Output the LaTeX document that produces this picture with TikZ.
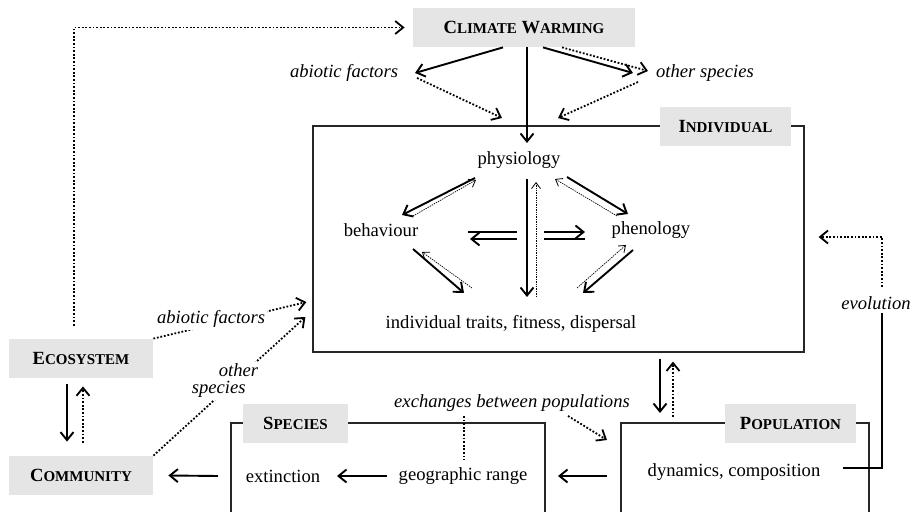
\documentclass[tikz,border=0pt]{standalone}
\usepackage{fontspec}
\setmainfont{Liberation Serif}
\usetikzlibrary{positioning,arrows.meta,calc}

% reduced capitals for the level names
\newcommand\sm[1]{{\fontsize{7.5}{9}\selectfont #1}}

\begin{document}
\begin{tikzpicture}[
  x=0.5pt, y=-0.5pt,
  font=\fontsize{9.3}{11}\selectfont,
  tag/.style={fill=gray!20, font=\fontsize{9.3}{11}\selectfont\bfseries,
    minimum height=19.5pt, inner sep=0pt},
  boxframe/.style={draw=black!85, line width=0.6pt},
  lbl/.style={font=\fontsize{9.3}{11}\selectfont\itshape, inner sep=1pt},
  arr/.style={-{Straight Barb[length=4pt,width=6.5pt]}, line width=0.95pt},
  dline/.style={line width=0.9pt, dash pattern=on 0.9pt off 0.9pt},
  darr/.style={dline, -{Straight Barb[length=4pt,width=6.5pt]}},
  fdarr/.style={-{Straight Barb[length=3pt,width=4.5pt,line width=0.4pt]},
    line width=0.35pt, dash pattern=on 0.7pt off 0.5pt}
]
\useasboundingbox (0,0) rectangle (915,512);
\fill[white] (0,0) rectangle (915,512);

% ---------- frames ----------
\node[boxframe, minimum width=245.5pt, minimum height=113pt, inner sep=0pt] (ind) at (558.5,239) {};
\coordinate (pop) at (621,423);
\draw[boxframe] (231,515) |- (545,423) -- (545,515);
\draw[boxframe] (621,515) |- (869,423) -- (869,515);

% ---------- level names ----------
\node[tag, minimum width=111pt]  (cw)     at (524,27.5)    {C\sm{LIMATE} W\sm{ARMING}};
\node[tag, minimum width=65.5pt] (indlab) at (725.5,126.5) {I\sm{NDIVIDUAL}};
\node[tag, minimum width=72pt]   (eco)    at (81,358.5)    {E\sm{COSYSTEM}};
\node[tag, minimum width=72pt]   (comm)   at (81,475.5)    {C\sm{OMMUNITY}};
\node[tag, minimum width=52.5pt] (splab)  at (295.5,423.5) {S\sm{PECIES}};
\node[tag, minimum width=65.5pt] (poplab) at (790.5,423.5) {P\sm{OPULATION}};

% ---------- texts ----------
\node (phys)     at (519,160) {physiology};
\node (behav)    at (381,230) {behaviour};
\node (phen)     at (651,230) {phenology};
\node (traits)   at (511,324) {individual traits, fitness, dispersal};
\node (extinct)  at (283,476) {extinction};
\node (georange) at (463,476) {geographic range};
\node (dyncomp)  at (734,472) {dynamics, composition};
\node[lbl] (abio) at (344,73)  {abiotic factors};
\node[lbl] (oth)  at (705,73)  {other species};
\node[lbl] (exch) at (512,403) {exchanges between populations};
\node[lbl] (evol) at (876,303) {evolution};

% ---------- climate warming ----------
\draw[arr]  ($(cw.south)+(-21,0)$) -- ($(abio)+(71,0)$);
\draw[arr]  ($(cw.south)+(3,0)$)   -- ($(phys)+(8,-17)$);
\draw[arr]  ($(cw.south)+(19,0)$)  -- ($(oth)+(-72,0)$);
\draw[darr] ($(cw.south)+(38,0)$)  -- ($(oth)+(-57,-2)$);
\draw[darr] ($(abio)+(73,5)$)  -- ($(phys)+(-17,-42)$);
\draw[darr] ($(oth)+(-67,9)$)  -- ($(phys)+(39,-42)$);

% ---------- inside the individual ----------
\draw[arr]   ($(phys)+(-44,18)$)   -- ($(behav)+(21,-15)$);
\draw[fdarr] ($(behav)+(32,-14)$)  -- ($(phys)+(-43,20)$);
\draw[arr]   ($(phys)+(48,17)$)    -- ($(phen)+(-23,-16)$);
\draw[fdarr] ($(phen)+(-34,-14)$)  -- ($(phys)+(36,19)$);
\draw[arr]   ($(behav)+(32,19)$)   -- ($(traits)+(-47,-31)$);
\draw[fdarr] ($(traits)+(-39,-36)$) -- ($(behav)+(41,22)$);
\draw[arr]   ($(phen)+(-18,20)$)   -- ($(traits)+(72,-31)$);
\draw[fdarr] ($(traits)+(66,-36)$) -- ($(phen)+(-25,15)$);
\draw[arr]   ($(phys)+(8,19)$)     -- ($(traits)+(16,-27)$);
\draw[fdarr] ($(traits)+(25,-27)$) -- ($(phys)+(17,22)$);
\draw[line width=0.95pt] ($(behav)+(87,2)$) -- ($(behav)+(136,2)$);
\draw[arr]   ($(behav)+(136,9)$)   -- ($(behav)+(89,9)$);
\draw[arr]   ($(phen)+(-107,2)$)   -- ($(phen)+(-66,2)$);
\draw[line width=0.95pt] ($(phen)+(-107,9)$) -- ($(phen)+(-66,9)$);

% ---------- ecosystem and community ----------
\draw[darr] ($(eco.north)+(-7,-13)$) |- ($(cw.west)+(-8,0)$);
\draw[arr]  ($(eco.south)+(-14,6)$) -- ($(comm.north)+(-14,-14)$);
\draw[darr] ($(comm.north)+(2,-13)$) -- ($(eco.south)+(2,8)$);
\draw[darr] (eco.north east) -- ($(ind.west)+(-6,63)$);
\node[lbl, fill=white] (abio2) at (211,319) {abiotic factors};
\draw[darr] (comm.north east) -- ($(ind.west)+(-7,78)$);
\node[lbl, fill=white, align=left] (oth2) at (225,381) {\hspace*{13.5pt}other\\[-2.5pt]species};

% ---------- population and species ----------
\draw[arr]  ($(ind.south)+(101.5,6)$) -- ($(pop)+(39,-10)$);
\draw[darr] ($(pop)+(52,-6)$) -- ($(ind.south)+(114.5,9)$);
\draw[arr]  ($(pop)+(-14,53)$) -- ($(georange)+(95,0)$);
\draw[arr]  ($(georange)+(-76,0)$) -- ($(extinct)+(54,0)$);
\draw[arr]  ($(extinct)+(-65,0)$) -- ($(comm.east)+(15,0)$);
\draw[dline] ($(exch)+(-48,13)$) -- ($(georange)+(1,-16)$);
\draw[darr] ($(exch)+(56,13)$) -- ($(pop)+(-14,17)$);
\draw[line width=0.95pt] ($(dyncomp)+(109,-4)$) -| ($(evol)+(6,10)$);
\draw[darr] ($(evol)+(6,-16)$) |- ($(ind.east)+(14,-2)$);

\end{tikzpicture}
\end{document}
